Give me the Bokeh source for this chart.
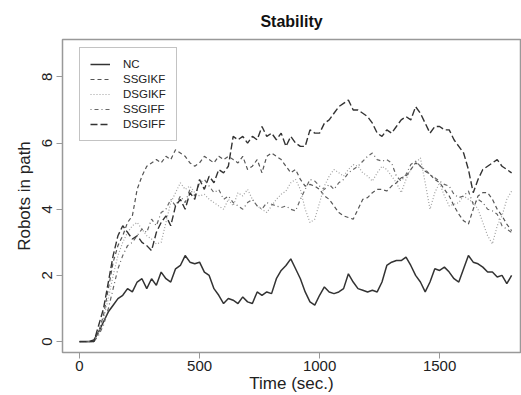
from bokeh.plotting import figure
from bokeh.models import Range1d, FixedTicker, Legend, LegendItem
from bokeh.embed import file_html
from bokeh.resources import INLINE

time = list(range(0, 1801, 20))

nc = [0, 0, 0, 0.05, 0.3, 0.6, 0.9, 1.1, 1.3, 1.4,
      1.6, 1.5, 1.8, 1.9, 1.6, 1.9, 1.7, 2.1, 1.9, 1.8,
      2.2, 2.3, 2.6, 2.4, 2.35, 2.4, 2.1, 2.0, 1.6, 1.4,
      1.15, 1.3, 1.25, 1.15, 1.35, 1.2, 1.15, 1.5, 1.4, 1.5,
      1.45, 1.9, 2.15, 2.3, 2.5, 2.2, 1.9, 1.5, 1.2, 1.1,
      1.4, 1.65, 1.5, 1.45, 1.5, 1.6, 2.05, 1.8, 1.6, 1.55,
      1.5, 1.55, 1.5, 1.8, 2.3, 2.4, 2.45, 2.45, 2.55, 2.3,
      2.0, 1.8, 1.5, 1.8, 2.2, 2.15, 2.25, 2.1, 1.9, 1.8,
      2.2, 2.6, 2.4, 2.35, 2.25, 2.1, 2.1, 1.95, 2.0, 1.75,
      2.0]

ssgikf = [0, 0, 0, 0, 0.3, 0.8, 1.6, 2.4, 2.9, 3.2,
          3.6, 3.8, 4.6, 5.0, 5.3, 5.4, 5.5, 5.4, 5.6, 5.5,
          5.8, 5.7, 5.6, 5.4, 5.3, 5.4, 5.6, 5.5, 5.4, 5.6,
          5.5, 5.6, 5.5, 5.4, 5.6, 5.2, 5.3, 5.5, 5.1, 5.6,
          5.7, 5.6, 5.5, 5.3, 5.1, 5.2, 4.9, 4.7, 4.75, 4.7,
          4.6, 4.4, 4.3, 4.1, 3.9, 3.8, 3.75, 3.7, 4.0, 4.3,
          4.35, 4.5, 4.6, 4.6, 4.55, 4.7, 4.8, 4.95, 5.0, 5.2,
          5.4, 5.3, 5.15, 5.05, 4.9, 4.8, 4.6, 4.4, 4.1, 3.85,
          3.65, 3.55, 4.0, 4.4, 4.5, 4.5, 4.3, 4.0, 3.8, 3.55,
          3.35]

dsgikf = [0, 0, 0, 0, 0.3, 0.7, 1.3, 2.0, 2.6, 3.0,
          3.3, 3.5, 3.6, 3.4, 3.2, 3.1, 2.95, 3.0, 3.6, 4.2,
          4.5, 4.8, 4.6, 4.7, 4.5, 4.4, 4.45, 4.3, 4.2, 4.1,
          4.0, 4.3, 4.1, 4.5, 4.4, 4.6, 4.3, 4.1, 4.0, 3.9,
          4.1, 4.3, 4.45, 4.55, 4.8, 4.9, 4.6, 4.0, 3.6, 3.7,
          4.2, 4.7, 5.0, 5.2, 5.1, 5.0, 5.2, 5.35, 5.3, 5.1,
          5.0, 4.85, 5.1, 5.3, 5.2, 5.0, 4.8, 4.5, 4.9, 5.2,
          5.4, 5.55, 4.8, 4.0, 4.5, 4.8, 4.4, 4.1, 4.15, 4.2,
          4.4, 4.3, 4.2, 4.0, 3.6, 3.2, 2.95, 3.5, 3.8, 4.3,
          4.55]

ssgiff = [0, 0, 0, 0, 0.2, 0.5, 1.0, 1.6, 2.2, 2.6,
          2.9, 3.0, 3.2, 3.4, 3.3, 3.7, 3.5, 3.9, 4.0, 4.3,
          4.1, 4.4, 4.2, 4.6, 4.4, 4.8, 4.9, 4.7, 4.5, 4.6,
          4.3, 4.4, 4.2, 4.1, 4.0, 4.2, 4.3, 4.1, 4.0, 4.2,
          4.15, 4.1, 4.05, 4.1, 4.0, 3.95, 4.3, 4.6, 4.9, 4.85,
          4.7, 4.6, 4.75, 4.6, 4.8, 4.9, 5.1, 5.2, 5.3, 5.45,
          5.6, 5.7, 5.5, 5.45, 5.5, 5.4, 5.0, 4.85, 5.05, 5.35,
          5.45, 5.3, 5.2, 5.05, 4.95, 4.85, 4.75, 4.7, 4.45, 4.35,
          4.4, 4.55, 4.15, 4.3, 4.2, 4.0, 3.95, 3.85, 3.5, 3.4,
          3.3]

dsgiff = [0, 0, 0, 0, 0.5, 1.0, 1.8, 2.6, 3.2, 3.5,
          3.3, 3.1, 3.2, 3.0, 2.9, 2.75, 3.3, 3.6, 3.8, 3.5,
          4.1, 4.3, 4.0, 4.5, 4.3, 4.9, 4.6, 5.0, 4.8, 5.2,
          5.1, 5.3, 6.2, 6.1, 6.2, 6.0, 6.2, 6.1, 6.5, 6.2,
          6.3, 6.1, 6.3, 5.9, 6.2, 6.0, 5.9, 5.9, 6.4, 6.3,
          6.3, 6.6, 6.7, 6.9, 7.1, 7.2, 7.3, 7.0, 7.0, 6.9,
          6.8, 6.6, 6.3, 6.2, 6.4, 6.3, 6.5, 6.7, 6.8, 6.7,
          7.1, 6.9, 6.6, 6.3, 6.5, 6.5, 6.4, 6.4, 6.1, 5.9,
          5.7, 5.2, 4.5, 4.9, 5.2, 5.3, 5.4, 5.5, 5.3, 5.2,
          5.1]

series_names = ["NC", "SSGIKF", "DSGIKF", "SSGIFF", "DSGIFF"]
series_values = [nc, ssgikf, dsgikf, ssgiff, dsgiff]
x_ticks = [0, 500, 1000, 1500]
y_ticks = [0, 2, 4, 6, 8]

styles = [
    dict(color="#333333", width=1.5, dash="solid"),
    dict(color="#555555", width=1.2, dash="4 3"),
    dict(color="#a0a0a0", width=1.2, dash="1 2"),
    dict(color="#666666", width=1.2, dash="1 3 4 3"),
    dict(color="#333333", width=1.4, dash="7 3"),
]

FONT = "Liberation Sans"

p = figure(width=521, height=395, output_backend="svg", toolbar_location=None,
           x_range=Range1d(-71, 1837), y_range=Range1d(-0.33, 9.13),
           min_border_left=62, min_border_right=1, min_border_top=36, min_border_bottom=42,
           title="Stability")
p.title.text_font = FONT
p.title.text_font_size = "16px"
p.title.text_font_style = "bold"
p.title.align = "center"
p.title.offset = 4
p.title.standoff = 20
p.title.text_color = "#111111"

p.xgrid.visible = False
p.ygrid.visible = False
p.outline_line_color = "#999999"
p.outline_line_width = 1.5
p.background_fill_color = "white"

for ax in (p.xaxis[0], p.yaxis[0]):
    ax.axis_line_color = None
    ax.major_tick_line_color = "#999999"
    ax.major_tick_out = 6
    ax.major_tick_in = 0
    ax.minor_tick_line_color = None
    ax.major_label_text_font = FONT
    ax.major_label_text_font_size = "15px"
    ax.major_label_text_color = "#222222"
    ax.axis_label_text_font = FONT
    ax.axis_label_text_font_size = "17px"
    ax.axis_label_text_font_style = "normal"
    ax.axis_label_text_color = "#222222"
    ax.major_label_standoff = 2
    ax.axis_label_standoff = 0

p.yaxis[0].major_label_standoff = 4
p.yaxis[0].axis_label_standoff = 6
p.xaxis.ticker = FixedTicker(ticks=x_ticks)
p.yaxis.ticker = FixedTicker(ticks=y_ticks)
p.yaxis.major_label_orientation = "vertical"
p.xaxis.axis_label = "Time (sec.)"
p.yaxis.axis_label = "Robots in path"

items = []
for name, vals, st in zip(series_names, series_values, styles):
    r = p.line(time, vals, line_color=st["color"], line_width=st["width"], line_dash=st["dash"])
    items.append(LegendItem(label=name, renderers=[r]))

legend = Legend(items=items, location=(17, 211))
legend.label_text_font = FONT
legend.label_text_font_size = "11.5px"
legend.label_text_color = "#222222"
legend.glyph_width = 20
legend.glyph_height = 12
legend.label_height = 12
legend.spacing = 3
legend.padding = 10
legend.margin = 0
legend.label_standoff = 13
legend.border_line_color = "#888888"
legend.border_line_width = 1
legend.background_fill_alpha = 1.0
p.add_layout(legend)

open("out.html", "w").write(file_html(p, INLINE))
